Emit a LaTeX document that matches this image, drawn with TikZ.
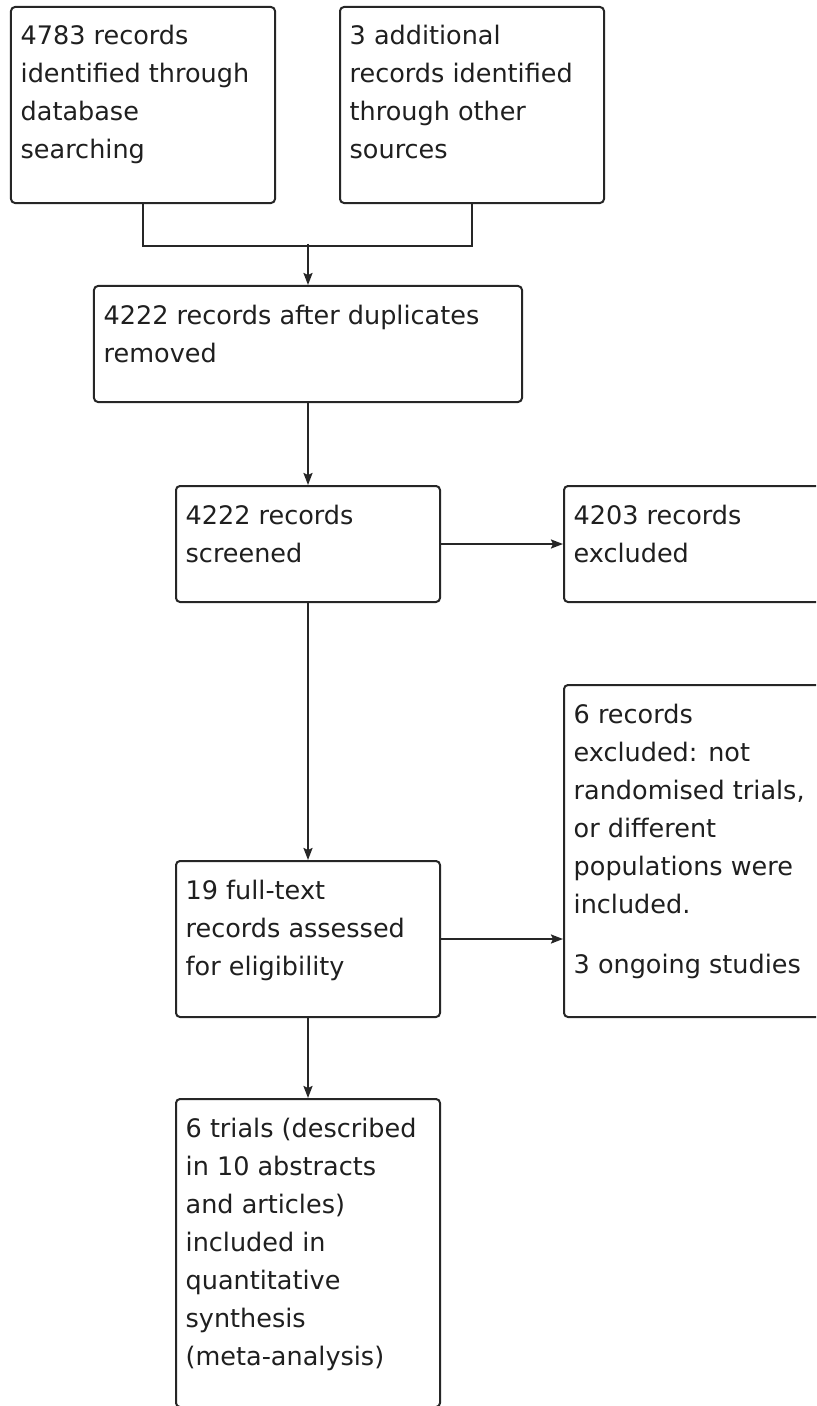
\documentclass[tikz,border=0pt]{standalone}
\usepackage{fontspec}
\setmainfont{DejaVu Sans}
\usetikzlibrary{arrows.meta}
\tikzset{
  pbox/.style={draw=black!85, line width=2bp, rectangle, rounded corners=4bp,
    inner sep=0pt, fill=white},
  ptext/.style={anchor=base west, inner sep=0pt, text=black!88,
    font=\fontsize{25.5bp}{38bp}\selectfont, xshift=10.5bp, yshift=-39bp},
  conn/.style={draw=black!85, line width=2bp},
  arr/.style={conn, -{Stealth[length=12bp,width=9bp,inset=2bp]}}
}
\newcommand\ptab[1]{\begin{tabular}[t]{@{}l@{}}#1\end{tabular}}
\begin{document}
\begin{tikzpicture}[x=1bp,y=-1bp]
\useasboundingbox (0,0) rectangle (816,1406);
\clip (0,0) rectangle (816,1406);
% boxes
\node[pbox, minimum width=264bp, minimum height=196bp] (A) at (143,105) {};
\node[pbox, minimum width=264bp, minimum height=196bp] (B) at (472,105) {};
\node[pbox, minimum width=428bp, minimum height=116bp] (C) at (308,344) {};
\node[pbox, minimum width=264bp, minimum height=116bp] (D) at (308,544) {};
\node[pbox, minimum width=316bp, minimum height=116bp] (E) at (722,544) {};
\node[pbox, minimum width=316bp, minimum height=332bp] (F) at (722,851) {};
\node[pbox, minimum width=264bp, minimum height=156bp] (G) at (308,939) {};
\node[pbox, minimum width=264bp, minimum height=308bp] (H) at (308,1253) {};
% texts
\node[ptext] (tA) at (A.north -| A.west) {\ptab{4783 records\\identified through\\database\\searching}};
\node[ptext] (tB) at (B.north -| B.west) {\ptab{3 additional\\records identified\\through other\\sources}};
\node[ptext] (tC) at (C.north -| C.west) {\ptab{4222 records after duplicates\\removed}};
\node[ptext] (tD) at (D.north -| D.west) {\ptab{4222 records\\screened}};
\node[ptext] (tE) at (E.north -| E.west) {\ptab{4203 records\\excluded}};
\node[ptext] (tF) at (F.north -| F.west) {\ptab{6 records\\excluded: not\\randomised trials,\\or different\\populations were\\included.\\[22bp]3 ongoing studies}};
\node[ptext] (tG) at (G.north -| G.west) {\ptab{19 full-text\\records assessed\\for eligibility}};
\node[ptext] (tH) at (H.north -| H.west) {\ptab{6 trials (described\\in 10 abstracts\\and articles)\\included in\\quantitative\\synthesis\\(meta-analysis)}};
% connectors
\coordinate (J) at (308,244);
\draw[conn] (A.south) -- ++(0,42) -| (B.south);
\draw[arr] (J) -- (C.north);
\draw[arr] (C.south) -- (D.north);
\draw[arr] (D.east) -- (E.west);
\draw[arr] (D.south) -- (G.north);
\draw[arr] (G.east) -- (G.east -| F.west);
\draw[arr] (G.south) -- (H.north);
\end{tikzpicture}
\end{document}
